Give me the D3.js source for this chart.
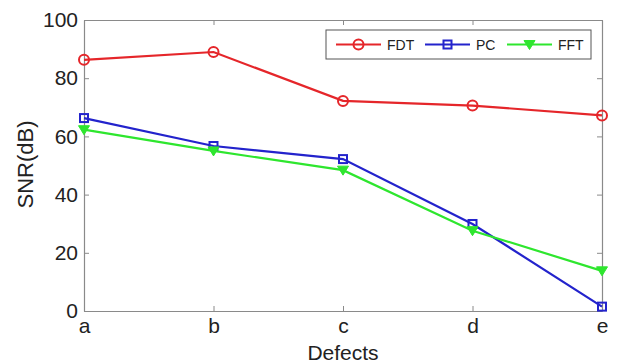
<!DOCTYPE html>
<html>
<head>
<meta charset="utf-8">
<script src="https://cdn.jsdelivr.net/npm/d3@7"></script>
<style>
  body { margin: 0; background: #fff; }
  text { font-family: "Liberation Sans", Arial, sans-serif; fill: #222; }
</style>
</head>
<body>
<svg id="chart" width="618" height="364"></svg>
<script>
var defects = ["a", "b", "c", "d", "e"];
var fdtValues = [86.3, 89.0, 72.2, 70.6, 67.2];
var pcValues = [66.3, 56.7, 52.2, 29.9, 1.5];
var fftValues = [62.3, 55.0, 48.4, 27.6, 13.8];
var yTicks = [0, 20, 40, 60, 80, 100];

var series = [
    {name: "FDT", values: fdtValues, color: "#e5262a", marker: "circle"},
    {name: "PC", values: pcValues, color: "#2323cc", marker: "square"},
    {name: "FFT", values: fftValues, color: "#2ee62e", marker: "triangle"}
];

var margin = {top: 20, right: 16, bottom: 53, left: 84},
    width = 618 - margin.left - margin.right,
    height = 364 - margin.top - margin.bottom;

var svg = d3.select("#chart");
var g = svg.append("g").attr("transform", "translate(" + margin.left + "," + margin.top + ")");

var x = d3.scalePoint().domain(defects).range([0, width]);
var y = d3.scaleLinear().domain([0, 100]).range([height, 0]);

// axes box, ticks pointing inward like matlab
var axisColor = "#8a8a8a";
function styleAxis(sel) {
    sel.select(".domain").attr("stroke", axisColor).attr("stroke-width", 1.2);
    sel.selectAll(".tick line").attr("stroke", axisColor);
    sel.selectAll(".tick text").style("font-size", "21px").attr("fill", "#222");
}

g.append("g").attr("transform", "translate(0," + height + ")")
    .call(d3.axisBottom(x).tickSizeInner(-5).tickSizeOuter(0).tickPadding(7))
    .call(styleAxis);
g.append("g")
    .call(d3.axisTop(x).tickSizeInner(-5).tickSizeOuter(0).tickFormat(""))
    .call(styleAxis);
g.append("g")
    .call(d3.axisLeft(y).tickValues(yTicks).tickSizeInner(-5).tickSizeOuter(0).tickPadding(6))
    .call(styleAxis);
g.append("g").attr("transform", "translate(" + width + ",0)")
    .call(d3.axisRight(y).tickValues(yTicks).tickSizeInner(-5).tickSizeOuter(0).tickFormat(""))
    .call(styleAxis);

// axis labels
svg.append("text")
    .attr("x", margin.left + width / 2)
    .attr("y", 360)
    .attr("text-anchor", "middle")
    .style("font-size", "21px")
    .text("Defects");
svg.append("text")
    .attr("transform", "translate(33," + (margin.top + height / 2 - 1) + ") rotate(-90)")
    .attr("text-anchor", "middle")
    .style("font-size", "22px")
    .text("SNR(dB)");

var line = d3.line()
    .x(function(d, i) { return x(defects[i]); })
    .y(function(d) { return y(d); });

function drawMarker(sel, type, color) {
    if (type == "circle") {
        sel.append("circle").attr("r", 5);
    } else if (type == "square") {
        sel.append("rect").attr("x", -4).attr("y", -4).attr("width", 8).attr("height", 8);
    } else {
        sel.append("path").attr("d", "M-5.5,-4L5.5,-4L0,5Z");
    }
    sel.selectAll("circle,rect").attr("fill", "none").attr("stroke", color).attr("stroke-width", 2);
    sel.selectAll("path").attr("fill", color).attr("stroke", color).attr("stroke-width", 1);
}

series.forEach(function(s) {
    g.append("path")
        .datum(s.values)
        .attr("fill", "none")
        .attr("stroke", s.color)
        .attr("stroke-width", 2.2)
        .attr("d", line);
    g.selectAll(".m-" + s.name)
        .data(s.values)
        .enter().append("g")
        .attr("class", "m-" + s.name)
        .attr("transform", function(d, i) { return "translate(" + x(defects[i]) + "," + y(d) + ")"; })
        .each(function() { drawMarker(d3.select(this), s.marker, s.color); });
});

// legend
var legend = svg.append("g").attr("transform", "translate(326,30)");
legend.append("rect")
    .attr("width", 265).attr("height", 29)
    .attr("fill", "#fff").attr("stroke", "#555").attr("stroke-width", 1);
var legendX = [10, 99, 181];
series.forEach(function(s, i) {
    var item = legend.append("g").attr("transform", "translate(" + legendX[i] + ",14.5)");
    item.append("line").attr("x1", 0).attr("x2", 45).attr("stroke", s.color).attr("stroke-width", 2.2);
    var mk = item.append("g").attr("transform", "translate(22.5,0)");
    drawMarker(mk, s.marker, s.color);
    item.append("text").attr("x", 51).attr("y", 5).style("font-size", "14px").text(s.name);
});
</script>
</body>
</html>
